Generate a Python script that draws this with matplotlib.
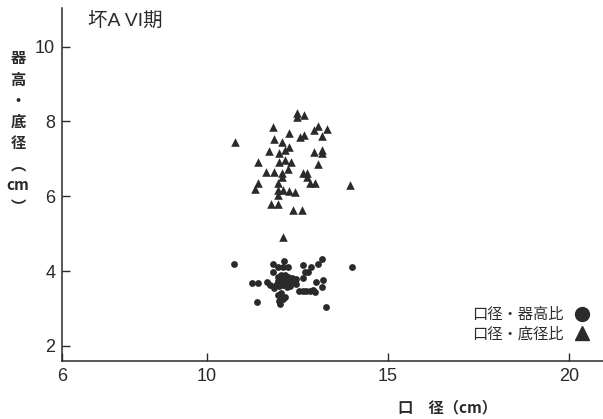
import matplotlib
matplotlib.use("Agg")
import matplotlib.pyplot as plt
from matplotlib.lines import Line2D

plt.rcParams['font.family'] = ['Liberation Sans', 'Noto Sans CJK JP', 'DejaVu Sans']

# 口径・器高比 (口径, 器高)
circ_x = [10.75, 14.0, 11.38, 13.3, 11.25, 11.42, 11.65, 11.75, 11.85,
          11.82, 12.12, 11.95, 12.1, 12.25, 11.82, 12.65, 12.87, 13.07, 13.18,
          12.7, 12.78, 12.65,
          11.95, 12.05, 12.15, 12.25, 12.35, 12.45, 11.95, 12.05, 12.15, 12.25,
          12.35, 12.45, 11.9, 12.0, 12.1, 12.2, 12.3, 12.1, 12.2, 12.0,
          12.55, 12.65, 12.75, 12.85, 12.93, 12.98, 13.0, 13.2, 13.18,
          12.05, 12.15, 11.98, 12.02, 12.1, 11.95]
circ_y = [4.2, 4.12, 3.17, 3.05, 3.67, 3.67, 3.7, 3.62, 3.55,
          4.2, 4.27, 4.12, 4.12, 4.12, 3.97, 4.15, 4.1, 4.2, 4.33,
          3.97, 3.97, 3.8,
          3.85, 3.9, 3.88, 3.85, 3.82, 3.78, 3.72, 3.75, 3.72, 3.7,
          3.68, 3.65, 3.62, 3.6, 3.62, 3.58, 3.6, 3.68, 3.8, 3.8,
          3.47, 3.47, 3.46, 3.47, 3.5, 3.43, 3.7, 3.75, 3.57,
          3.42, 3.3, 3.2, 3.12, 3.25, 3.35]

# 口径・底径比 (口径, 底径)
tri_x = [10.77, 12.49, 12.49, 12.68, 11.82, 12.27, 11.85, 12.07, 12.57, 12.68,
         13.07, 12.96, 13.31, 13.18, 11.71, 11.99, 12.15, 12.27, 12.96, 13.18,
         13.18, 11.41, 11.99, 12.15, 12.32, 13.07, 11.63, 11.85, 12.24, 12.07,
         12.07, 12.65, 12.76, 12.76, 11.41, 11.33, 11.96, 12.85, 12.98, 11.96,
         12.1, 12.27, 12.43, 11.96, 11.77, 11.96, 12.38, 12.62, 13.95, 12.1]
tri_y = [7.45, 8.22, 8.12, 8.17, 7.85, 7.69, 7.53, 7.45, 7.58, 7.64,
         7.88, 7.77, 7.8, 7.61, 7.21, 7.16, 7.24, 7.32, 7.18, 7.24,
         7.16, 6.91, 6.91, 6.97, 6.91, 6.86, 6.65, 6.65, 6.73, 6.62,
         6.51, 6.62, 6.62, 6.51, 6.35, 6.19, 6.35, 6.35, 6.35, 6.17,
         6.17, 6.14, 6.11, 6.03, 5.79, 5.79, 5.63, 5.63, 6.3, 4.91]

xticks = [6, 10, 15, 20]
yticks = [2, 4, 6, 8, 10]

ink = '#2a2a2a'
cjk = ['Noto Sans CJK JP', 'DejaVu Sans']

fig = plt.figure(figsize=(6.03, 4.19), dpi=100)
ax = fig.add_axes([0.103, 0.138, 0.897, 0.843])

ax.scatter(circ_x, circ_y, s=24, marker='o', color=ink, linewidths=0)
ax.scatter(tri_x, tri_y, s=38, marker='^', color=ink, linewidths=0)

ax.set_xlim(6, 20.94)
ax.set_ylim(1.59, 11.03)
ax.set_xticks(xticks)
ax.set_yticks(yticks)
ax.tick_params(direction='in', length=6, width=1, labelsize=13, colors=ink, pad=5)
ax.spines['top'].set_visible(False)
ax.spines['right'].set_visible(False)
for s in ['left', 'bottom']:
    ax.spines[s].set_color(ink)
    ax.spines[s].set_linewidth(1.1)

ax.text(0.047, 0.99, '坏A VI期', transform=ax.transAxes, fontsize=14,
        family=['Liberation Sans', 'Noto Sans CJK JP'], color=ink, va='top', ha='left')

# 纵向排列的Y轴标题
fig.text(0.03, 0.88, '器\n高\n・\n底\n径\n︵\ncm\n︶', family=cjk, fontsize=11,
         weight='bold', color=ink, ha='center', va='top', linespacing=1.4)
fig.text(0.742, 0.028, '口　径（cm）', family=cjk, fontsize=11, weight='bold',
         color=ink, ha='center', va='center')

handles = [Line2D([], [], marker='o', color=ink, linestyle='', markersize=10),
           Line2D([], [], marker='^', color=ink, linestyle='', markersize=10)]
ax.legend(handles, ['口径・器高比', '口径・底径比'], loc='lower right',
          bbox_to_anchor=(0.99, 0.035), frameon=False, markerfirst=False,
          prop={'family': cjk, 'size': 11}, handletextpad=0.6, labelspacing=0.15,
          borderaxespad=0, handlelength=1.2, labelcolor=ink)

fig.savefig('out.png', dpi=100)
